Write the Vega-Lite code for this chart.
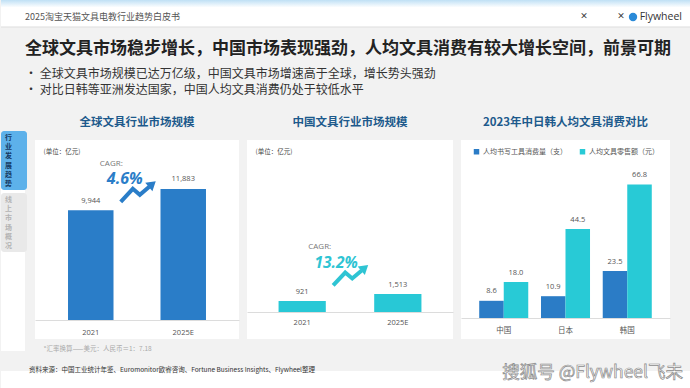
{
  "$schema": "https://vega.github.io/schema/vega-lite/v6.json",
  "background": "#f2f2f2",
  "padding": 0,
  "spacing": 12,
  "datasets": {
    "global": [{"year": "2021", "value": 9944}, {"year": "2025E", "value": 11883}],
    "china": [{"year": "2021", "value": 921}, {"year": "2025E", "value": 1513}],
    "percap": [
      {"country": "中国", "series": "人均书写工具消费量（支）", "value": 8.6},
      {"country": "中国", "series": "人均文具零售额（元）", "value": 18.0},
      {"country": "日本", "series": "人均书写工具消费量（支）", "value": 10.9},
      {"country": "日本", "series": "人均文具零售额（元）", "value": 44.5},
      {"country": "韩国", "series": "人均书写工具消费量（支）", "value": 23.5},
      {"country": "韩国", "series": "人均文具零售额（元）", "value": 66.8}
    ],
    "cagr_global": [{"label": "CAGR:", "rate": "4.6%"}],
    "cagr_china": [{"label": "CAGR:", "rate": "13.2%"}],
    "tabs": [
      {"tab": "行业发展趋势", "label": "行\n业\n发\n展\n趋\n势", "active": "yes"},
      {"tab": "线上市场概况", "label": "线\n上\n市\n场\n概\n况", "active": "no"}
    ],
    "brand": [{"logo": "Flywheel", "x": "×"}],
    "mark": [{"w": "搜狐号 @Flywheel飞未"}],
    "blank": [{"t": ""}]
  },
  "config": {
    "font": "Noto Sans CJK SC",
    "view": {"fill": "white", "stroke": null},
    "title": {"fontSize": 11.5, "fontWeight": "bold", "color": "#1d5a8c", "offset": 11.5, "anchor": "middle"},
    "axis": {"grid": false}
  },
  "vconcat": [
    {
      "spacing": 0,
      "vconcat": [
        {
          "width": 690, "height": 27,
          "data": {"name": "brand"},
          "title": {"text": "2025淘宝天猫文具电教行业趋势白皮书", "anchor": "start", "frame": "group", "dx": 24, "offset": -22, "fontSize": 9, "fontWeight": "normal", "color": "#555555"},
          "layer": [
            {
              "mark": {"type": "rect", "color": {"gradient": "linear", "x1": 0, "y1": 0, "x2": 0, "y2": 1, "stops": [{"offset": 0, "color": "#bfe0f5"}, {"offset": 1, "color": "#ffffff"}]}},
              "encoding": {"y": {"datum": 1, "type": "quantitative", "scale": {"domain": [0, 1], "nice": false}, "axis": null}, "y2": {"datum": 0.72}}
            },
            {
              "mark": {"type": "rule", "color": "#dddddd", "strokeWidth": 1},
              "encoding": {"y": {"datum": 0, "type": "quantitative", "axis": null}}
            },
            {
              "mark": {"type": "text", "align": "right", "baseline": "middle", "font": "Open Sans", "fontSize": 10.5, "color": "#333333", "dx": -9, "dy": -10},
              "encoding": {"x": {"datum": 1, "type": "quantitative", "scale": {"domain": [0, 1], "nice": false}, "axis": null}, "y": {"datum": 0, "type": "quantitative", "axis": null}, "text": {"field": "logo"}}
            },
            {
              "mark": {"type": "point", "filled": true, "opacity": 1, "size": 70, "color": "#2a8ad8", "xOffset": -58, "yOffset": -10},
              "encoding": {"x": {"datum": 1, "type": "quantitative", "axis": null}, "y": {"datum": 0, "type": "quantitative", "axis": null}}
            },
            {
              "mark": {"type": "text", "align": "center", "baseline": "middle", "fontSize": 8, "fontWeight": "bold", "color": "#333333", "dx": -70, "dy": -10},
              "encoding": {"x": {"datum": 1, "type": "quantitative", "axis": null}, "y": {"datum": 0, "type": "quantitative", "axis": null}, "text": {"field": "x"}}
            },
            {
              "mark": {"type": "text", "align": "center", "baseline": "middle", "fontSize": 8, "fontWeight": "bold", "color": "#333333", "dx": -107, "dy": -10},
              "encoding": {"x": {"datum": 1, "type": "quantitative", "axis": null}, "y": {"datum": 0, "type": "quantitative", "axis": null}, "text": {"field": "x"}}
            }
          ]
        },
        {
          "width": 690, "height": 77,
          "data": {"name": "blank"},
          "title": {
            "text": "全球文具市场稳步增长，中国市场表现强劲，人均文具消费有较大增长空间，前景可期",
            "subtitle": ["• 全球文具市场规模已达万亿级，中国文具市场增速高于全球，增长势头强劲", "• 对比日韩等亚洲发达国家，中国人均文具消费仍处于较低水平"],
            "anchor": "start", "frame": "group", "dx": 24, "offset": -69,
            "fontSize": 17, "fontWeight": "bold", "color": "#222222",
            "subtitleFontSize": 12, "subtitleColor": "#333333", "subtitlePadding": 11, "subtitleLineHeight": 16, "subtitleFontWeight": "normal"
          },
          "mark": {"type": "text"},
          "encoding": {"text": {"field": "t"}}
        }
      ]
    },
    {
      "spacing": 8,
      "resolve": {"scale": {"color": "independent", "fill": "independent"}, "legend": {"color": "independent", "fill": "independent"}},
      "hconcat": [
        {
          "width": 24, "height": 211,
          "data": {"name": "tabs"},
          "encoding": {"y": {"field": "tab", "type": "nominal", "scale": {"domain": ["行业发展趋势", "线上市场概况", "_a"], "paddingInner": 0.05, "paddingOuter": 0.227}, "axis": null}},
          "layer": [
            {
              "mark": {"type": "rect", "cornerRadius": 3, "xOffset": 2, "x2Offset": -11, "yOffset": -23, "y2Offset": -23},
              "encoding": {"fill": {"field": "active", "type": "nominal", "scale": {"domain": ["yes", "no"], "range": ["#5db1ea", "#e9e9e9"]}, "legend": null}}
            },
            {
              "mark": {"type": "text", "lineBreak": "\n", "fontSize": 7, "lineHeight": 9.2, "baseline": "top", "fontWeight": "bold", "dx": -4.5, "dy": -49.5},
              "encoding": {"text": {"field": "label"}, "color": {"field": "active", "type": "nominal", "scale": {"domain": ["yes", "no"], "range": ["#163a63", "#b3b3b3"]}, "legend": null}}
            }
          ]
        },
        {
          "width": 204, "height": 199,
          "title": "全球文具行业市场规模",
          "layer": [
            {
              "data": {"name": "global"},
              "mark": {"type": "bar", "color": "#2a7dc8"},
              "encoding": {
                "x": {"field": "year", "type": "nominal", "scale": {"domain": ["2021", "2025E"], "paddingInner": 0.508, "paddingOuter": 0.357},
                  "axis": {"title": "*汇率换算——美元：人民币＝1：7.18", "titleAnchor": "start", "titleAlign": "left", "titleX": 8, "titleY": 28, "titleBaseline": "middle", "titleFontSize": 6.5, "titleFontWeight": "normal", "titleColor": "#aaaaaa",
                    "labelAngle": 0, "labelFont": "Open Sans", "labelFontSize": 7.5, "labelColor": "#555555", "labelPadding": 8, "ticks": false, "tickSize": 0, "domainColor": "#dcdcdc", "offset": -19}},
                "y": {"field": "value", "type": "quantitative", "scale": {"domain": [-1723, 16326], "nice": false},
                  "axis": {"title": "(单位：亿元)", "labels": false, "ticks": false, "domain": false, "titleAngle": 0, "titleAlign": "left", "titleBaseline": "middle", "titleX": 8, "titleY": 11, "titleFontSize": 6.5, "titleFontWeight": "normal", "titleColor": "#444444"}},
                "y2": {"datum": 0}
              }
            },
            {
              "data": {"name": "global"},
              "mark": {"type": "text", "dy": -9.5, "baseline": "middle", "font": "Open Sans", "fontSize": 7.5, "color": "#555555"},
              "encoding": {"x": {"field": "year", "type": "nominal"}, "y": {"field": "value", "type": "quantitative"}, "text": {"field": "value", "type": "quantitative", "format": ","}}
            },
            {
              "data": {"name": "cagr_global"},
              "mark": {"type": "text", "dx": 20.5, "baseline": "middle", "font": "Open Sans", "fontSize": 8, "color": "#777777"},
              "encoding": {"x": {"datum": "2021", "type": "nominal"}, "y": {"datum": 14122, "type": "quantitative"}, "text": {"field": "label"}}
            },
            {
              "data": {"name": "cagr_global"},
              "mark": {"type": "text", "dx": 34, "baseline": "middle", "font": "Open Sans", "fontSize": 16, "fontWeight": "bold", "fontStyle": "italic", "color": "#2a7dc8"},
              "encoding": {"x": {"datum": "2021", "type": "nominal"}, "y": {"datum": 12761, "type": "quantitative"}, "text": {"field": "rate"}}
            },
            {
              "data": {"name": "cagr_global"},
              "mark": {"type": "point", "shape": "M-1.03,0.57L-0.34,-0.17L0.06,0.17L0.6,-0.29", "size": 1225, "filled": false, "opacity": 1, "strokeWidth": 4, "strokeJoin": "miter", "color": "#2a7dc8", "xOffset": 48},
              "encoding": {"x": {"datum": "2021", "type": "nominal"}, "y": {"datum": 11628, "type": "quantitative"}}
            },
            {
              "data": {"name": "cagr_global"},
              "mark": {"type": "point", "shape": "M0.97,-0.6L0.78,-0.03L0.37,-0.51Z", "size": 1225, "filled": true, "opacity": 1, "color": "#2a7dc8", "xOffset": 48},
              "encoding": {"x": {"datum": "2021", "type": "nominal"}, "y": {"datum": 11628, "type": "quantitative"}}
            }
          ]
        },
        {
          "width": 206, "height": 199,
          "title": "中国文具行业市场规模",
          "layer": [
            {
              "data": {"name": "china"},
              "mark": {"type": "bar", "color": "#28c8d6"},
              "encoding": {
                "x": {"field": "year", "type": "nominal", "scale": {"domain": ["2021", "2025E"], "paddingInner": 0.506, "paddingOuter": 0.33},
                  "axis": {"title": null, "labelAngle": 0, "labelFont": "Open Sans", "labelFontSize": 7.5, "labelColor": "#555555", "labelPadding": 6, "ticks": false, "tickSize": 0, "domainColor": "#dcdcdc", "offset": -27}},
                "y": {"field": "value", "type": "quantitative", "scale": {"domain": [-2268, 14448], "nice": false},
                  "axis": {"title": "(单位：亿元)", "labels": false, "ticks": false, "domain": false, "titleAngle": 0, "titleAlign": "left", "titleBaseline": "middle", "titleX": 8, "titleY": 11, "titleFontSize": 6.5, "titleFontWeight": "normal", "titleColor": "#444444"}},
                "y2": {"datum": 0}
              }
            },
            {
              "data": {"name": "china"},
              "mark": {"type": "text", "dy": -9, "baseline": "middle", "font": "Open Sans", "fontSize": 7.5, "color": "#555555"},
              "encoding": {"x": {"field": "year", "type": "nominal"}, "y": {"field": "value", "type": "quantitative"}, "text": {"field": "value", "type": "quantitative", "format": ","}}
            },
            {
              "data": {"name": "cagr_china"},
              "mark": {"type": "text", "dx": 17.5, "baseline": "middle", "font": "Open Sans", "fontSize": 8, "color": "#777777"},
              "encoding": {"x": {"datum": "2021", "type": "nominal"}, "y": {"datum": 5500, "type": "quantitative"}, "text": {"field": "label"}}
            },
            {
              "data": {"name": "cagr_china"},
              "mark": {"type": "text", "dx": 34, "baseline": "middle", "font": "Open Sans", "fontSize": 15.5, "fontWeight": "bold", "fontStyle": "italic", "color": "#2ec4d3"},
              "encoding": {"x": {"datum": "2021", "type": "nominal"}, "y": {"datum": 4100, "type": "quantitative"}, "text": {"field": "rate"}}
            },
            {
              "data": {"name": "cagr_china"},
              "mark": {"type": "point", "shape": "M-1.03,0.57L-0.34,-0.17L0.06,0.17L0.6,-0.29", "size": 1225, "filled": false, "opacity": 1, "strokeWidth": 4, "strokeJoin": "miter", "color": "#2ec4d3", "xOffset": 49},
              "encoding": {"x": {"datum": "2021", "type": "nominal"}, "y": {"datum": 3066, "type": "quantitative"}}
            },
            {
              "data": {"name": "cagr_china"},
              "mark": {"type": "point", "shape": "M0.97,-0.6L0.78,-0.03L0.37,-0.51Z", "size": 1225, "filled": true, "opacity": 1, "color": "#2ec4d3", "xOffset": 49},
              "encoding": {"x": {"datum": "2021", "type": "nominal"}, "y": {"datum": 3066, "type": "quantitative"}}
            }
          ]
        },
        {
          "width": 209, "height": 199,
          "title": "2023年中日韩人均文具消费对比",
          "data": {"name": "percap"},
          "encoding": {
            "x": {"field": "country", "type": "nominal", "scale": {"domain": ["中国", "日本", "韩国"], "paddingInner": 0.206, "paddingOuter": 0.295},
              "axis": {"title": null, "labelAngle": 0, "labelFontSize": 7.5, "labelColor": "#555555", "labelPadding": 8, "ticks": false, "tickSize": 0, "domainColor": "#dcdcdc", "offset": -21}},
            "xOffset": {"field": "series", "type": "nominal", "scale": {"domain": ["人均书写工具消费量（支）", "人均文具零售额（元）"], "paddingInner": 0, "paddingOuter": 0}},
            "y": {"field": "value", "type": "quantitative", "scale": {"domain": [-10.5, 89], "nice": false}, "axis": null}
          },
          "layer": [
            {
              "mark": {"type": "bar"},
              "encoding": {
                "y2": {"datum": 0},
                "color": {"field": "series", "type": "nominal", "scale": {"domain": ["人均书写工具消费量（支）", "人均文具零售额（元）"], "range": ["#2b7cc6", "#28cad6"]},
                  "legend": {"title": null, "orient": "none", "legendX": 12, "legendY": 8, "direction": "horizontal", "symbolType": "square", "symbolSize": 30, "labelFontSize": 7, "labelColor": "#555555", "columnPadding": 12, "padding": 0, "labelOffset": 3}}
              }
            },
            {
              "mark": {"type": "text", "dy": -9.5, "baseline": "middle", "font": "Open Sans", "fontSize": 7.5, "color": "#555555"},
              "encoding": {"text": {"field": "value", "type": "quantitative", "format": ".1f"}}
            }
          ]
        },
        {
          "width": 15, "height": 211,
          "data": {"name": "blank"},
          "mark": {"type": "text"},
          "encoding": {"text": {"field": "t"}}
        }
      ]
    },
    {
      "width": 690, "height": 26,
      "data": {"name": "mark"},
      "title": {"text": "资料来源：中国工业统计年鉴、Euromonitor欧睿咨询、Fortune Business Insights、Flywheel整理", "anchor": "start", "frame": "group", "dx": 28, "offset": -9, "fontSize": 6.5, "fontWeight": "normal", "color": "#333333"},
      "mark": {"type": "text", "align": "right", "baseline": "middle", "fontSize": 17.5, "fill": "#ffffff", "stroke": "#8a8a8a", "strokeWidth": 0.7, "dx": -8, "dy": 2},
      "encoding": {
        "x": {"datum": 1, "type": "quantitative", "scale": {"domain": [0, 1], "nice": false}, "axis": null},
        "y": {"datum": 1, "type": "quantitative", "scale": {"domain": [0, 1], "nice": false}, "axis": null},
        "text": {"field": "w"}
      }
    }
  ]
}
